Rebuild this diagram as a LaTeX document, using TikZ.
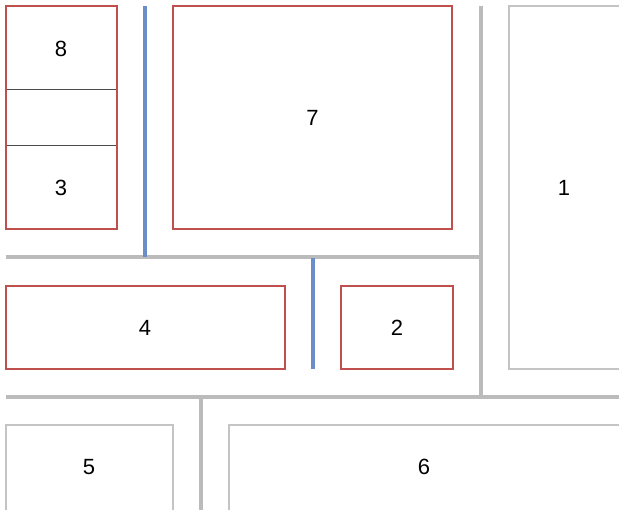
\documentclass[tikz,border=0pt]{standalone}
\usepackage{fontspec}
\setmainfont{Liberation Sans}
\definecolor{redb}{HTML}{C0504D}
\definecolor{blueb}{HTML}{6A8FC8}
\definecolor{grayl}{HTML}{BBBBBB}
\definecolor{grayb}{HTML}{C4C4C4}
\begin{document}
\begin{tikzpicture}[x=1pt,y=-1pt,
  redbox/.style={draw=redb,line width=2pt,fill=white},
  graybox/.style={draw=grayb,line width=2pt,fill=white},
  sep/.style={draw=grayl,line width=4pt},
  bsep/.style={draw=blueb,line width=4pt},
  lbl/.style={font=\fontsize{22}{26}\selectfont,inner sep=0pt}]
\useasboundingbox (0,0) rectangle (619,510);
\fill[white] (0,0) rectangle (619,510);
% separators
\coordinate (h1a) at (6,257); \coordinate (h1b) at (481,257);
\coordinate (v1a) at (481,6); \coordinate (v1b) at (481,397);
\coordinate (h2a) at (6,397); \coordinate (h2b) at (621,397);
\coordinate (v2a) at (201,397); \coordinate (v2b) at (201,512);
\coordinate (b1a) at (145,6); \coordinate (b1b) at (145,257);
\coordinate (b2a) at (313,258); \coordinate (b2b) at (313,369);
\draw[sep] (h1a) -- (h1b);
\draw[sep] (v1a) -- (v1b);
\draw[sep] (h2a) -- (h2b);
\draw[sep] (v2a) -- (v2b);
\draw[bsep] (b1a) -- (b1b);
\draw[bsep] (b2a) -- (b2b);
% boxes
\draw[redbox] (6,6) rectangle (117,229);
\coordinate (d1a) at (7,90); \coordinate (d1b) at (116,90);
\coordinate (d2a) at (7,146); \coordinate (d2b) at (116,146);
\draw[black!70,line width=1pt] (d1a) -- (d1b);
\draw[black!70,line width=1pt] (d2a) -- (d2b);
\node[lbl] (n8) at (61,49) {8};
\node[lbl] (n3) at (61,188) {3};
\draw[redbox] (173,6) rectangle (452,229);
\node[lbl] (n7) at (312.5,118) {7};
\draw[graybox] (509,6) rectangle (621,369);
\node[lbl] (n1) at (564,188) {1};
\draw[redbox] (6,286) rectangle (285,369);
\node[lbl] (n4) at (145,328) {4};
\draw[redbox] (341,286) rectangle (453,369);
\node[lbl] (n2) at (397,328) {2};
\draw[graybox] (6,425) rectangle (173,515);
\node[lbl] (n5) at (89,467) {5};
\draw[graybox] (229,425) rectangle (621,515);
\node[lbl] (n6) at (424,467) {6};
\end{tikzpicture}
\end{document}
